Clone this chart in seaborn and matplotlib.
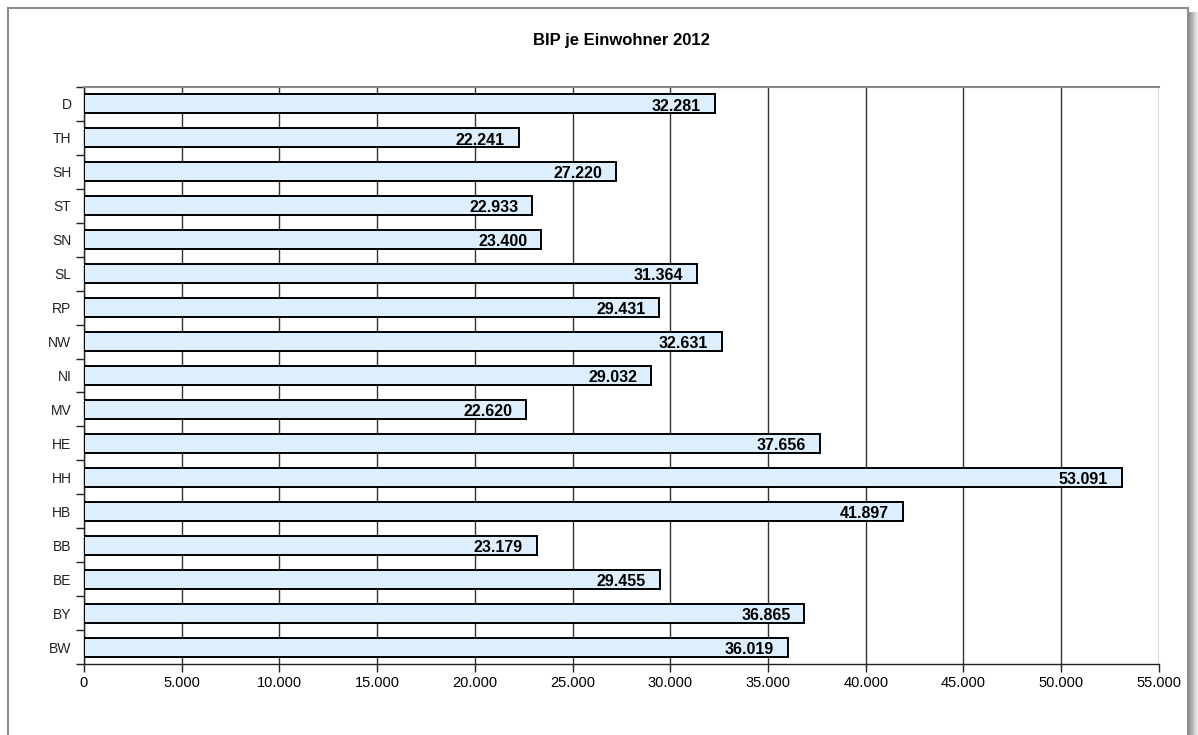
import numpy as np
import pandas as pd
import matplotlib
matplotlib.use("Agg")
import matplotlib.pyplot as plt
import seaborn as sns
from matplotlib.patches import Rectangle
from matplotlib.ticker import FuncFormatter, MultipleLocator

# Data (top to bottom as shown)
laender = ["D", "TH", "SH", "ST", "SN", "SL", "RP", "NW", "NI",
           "MV", "HE", "HH", "HB", "BB", "BE", "BY", "BW"]
bip = [32281, 22241, 27220, 22933, 23400, 31364, 29431, 32631, 29032,
       22620, 37656, 53091, 41897, 23179, 29455, 36865, 36019]

df = pd.DataFrame({"land": laender, "bip": bip})

sns.set_style("white", {"text.color": "black", "axes.labelcolor": "black",
                        "xtick.color": "black", "ytick.color": "black"})
plt.rcParams["font.family"] = ["Liberation Sans", "DejaVu Sans"]

fig = plt.figure(figsize=(11.98, 7.35), dpi=100)
ax = fig.add_axes([0.0701, 0.0966, 0.8973, 0.785])

sns.barplot(data=df, x="bip", y="land", orient="h", order=laender,
            color="#ddeefd", edgecolor="black", linewidth=1.4,
            width=0.56, saturation=1, ax=ax, zorder=3)

def fmt(v, pos=None):
    return f"{int(round(v)):,}".replace(",", ".")

for p, v in zip(ax.patches, bip):
    y = p.get_y() + p.get_height() / 2
    ax.annotate(fmt(v), xy=(p.get_width(), y), xytext=(-10, -1.5),
                textcoords="offset points", ha="right", va="center",
                fontsize=11.5, fontweight="bold", color="black", zorder=5)

ax.set_xlim(0, 55000)
ax.set_ylim(16.5, -0.5)
ax.xaxis.set_major_locator(MultipleLocator(5000))
ax.xaxis.set_major_formatter(FuncFormatter(fmt))
ax.grid(axis="x", color="#333333", linewidth=1.0, zorder=0)
ax.set_axisbelow(True)
ax.set_xlabel("")
ax.set_ylabel("")

# category boundaries as major ticks, names on minor ticks
n = len(laender)
ax.set_yticks(np.arange(n + 1) - 0.5)
ax.set_yticklabels([])
ax.set_yticks(np.arange(n), minor=True)
ax.set_yticklabels(laender, minor=True, color="#222222")
ax.tick_params(axis="y", which="major", direction="out", length=6,
               width=1, color="#222222", left=True)
ax.tick_params(axis="y", which="minor", length=0, labelsize=10, pad=9,
               left=False)

for s in ["left", "bottom"]:
    ax.spines[s].set_color("#222222")
    ax.spines[s].set_linewidth(1.0)
ax.spines["top"].set_color("#888888")
ax.spines["top"].set_linewidth(1.5)
ax.spines["right"].set_visible(False)

ax.tick_params(axis="x", which="major", direction="out", length=6,
               width=1, color="#222222", labelsize=10.5, pad=3, bottom=True)

ax.set_title("BIP je Einwohner 2012", fontsize=12, fontweight="bold", pad=30)

# chart frame with shadow on the right
fig.patches.append(Rectangle((8 / 1198, -0.02), 1180 / 1198, 1 - 8 / 735 + 0.02,
                             transform=fig.transFigure, fill=False,
                             edgecolor="#8c8c8c", linewidth=1.5, zorder=10))
greys = ["#9a9a9a", "#b0b0b0", "#c8c8c8", "#dedede", "#efefef"]
for i, g in enumerate(greys):
    fig.patches.append(Rectangle(((1189 + 2 * i) / 1198, -0.02), 2 / 1198,
                                 1 - 12 / 735 + 0.02, transform=fig.transFigure,
                                 facecolor=g, edgecolor="none", zorder=10))

fig.savefig("out.png", dpi=100)
